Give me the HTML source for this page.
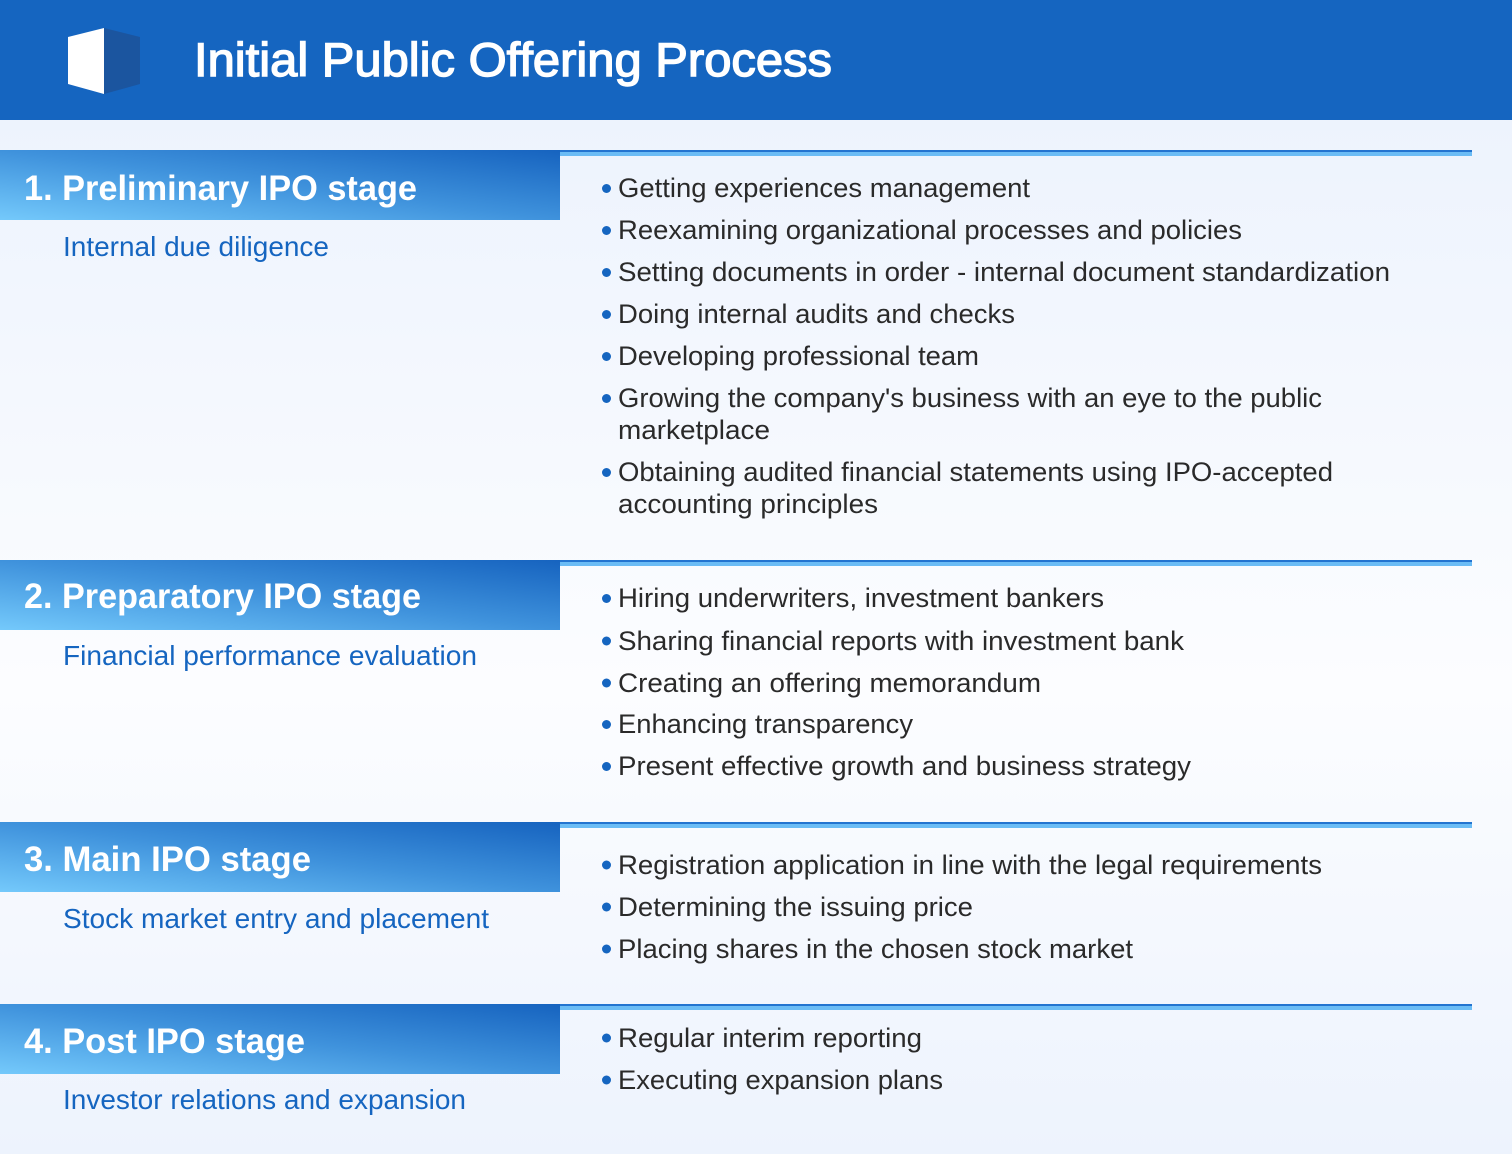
<!DOCTYPE html>
<html>
<head>
<meta charset="utf-8">
<style>
html,body{margin:0;padding:0;width:1512px;height:1154px;overflow:hidden;background:#eef4fd;}
svg{display:block;}
text{font-family:"Liberation Sans",Arial,sans-serif;}
.t{font-size:35.5px;font-weight:bold;fill:#ffffff;}
.s{font-size:27.5px;fill:#1565c0;}
.b{font-size:27px;fill:#2a2a2a;}
</style>
</head>
<body>
<svg width="1512" height="1154" viewBox="0 0 1512 1154" xmlns="http://www.w3.org/2000/svg">
<defs>
  <linearGradient id="bg" x1="0" y1="120" x2="0" y2="1154" gradientUnits="userSpaceOnUse">
    <stop offset="0" stop-color="#edf3fd"/>
    <stop offset="0.55" stop-color="#fcfdff"/>
    <stop offset="1" stop-color="#edf3fd"/>
  </linearGradient>
  <linearGradient id="bar" x1="0" y1="1" x2="1" y2="0">
    <stop offset="0" stop-color="#74c9fb"/>
    <stop offset="0.5" stop-color="#3f92dc"/>
    <stop offset="1" stop-color="#1663bf"/>
  </linearGradient>
</defs>

<rect x="0" y="0" width="1512" height="1154" fill="url(#bg)"/>

<!-- Header -->
<rect x="0" y="0" width="1512" height="120" fill="#1565c0"/>
<polygon points="68,37 104,28 104,94 68,84" fill="#ffffff"/>
<polygon points="104,28 140,37 140,84 104,94" fill="#1b559f"/>
<text x="194" y="76" font-size="47" fill="#ffffff" stroke="#ffffff" stroke-width="1.4" textLength="638" lengthAdjust="spacingAndGlyphs">Initial Public Offering Process</text>

<!-- Section 1 -->
<rect x="0" y="150" width="560" height="70" fill="url(#bar)"/>
<rect x="560" y="150" width="912" height="2" fill="#2374d0"/>
<rect x="560" y="152" width="912" height="4" fill="#6bbcf5"/>
<text class="t" x="24" y="200" textLength="393" lengthAdjust="spacingAndGlyphs">1. Preliminary IPO stage</text>
<text class="s" x="63" y="256" textLength="266" lengthAdjust="spacingAndGlyphs">Internal due diligence</text>

<g fill="#1565c0">
  <circle cx="606.5" cy="188.5" r="4.5"/>
  <circle cx="606.5" cy="230.5" r="4.5"/>
  <circle cx="606.5" cy="272.5" r="4.5"/>
  <circle cx="606.5" cy="314.5" r="4.5"/>
  <circle cx="606.5" cy="356.5" r="4.5"/>
  <circle cx="606.5" cy="398.5" r="4.5"/>
  <circle cx="606.5" cy="472.5" r="4.5"/>
</g>
<text class="b" x="618" y="197" textLength="412" lengthAdjust="spacingAndGlyphs">Getting experiences management</text>
<text class="b" x="618" y="239" textLength="624" lengthAdjust="spacingAndGlyphs">Reexamining organizational processes and policies</text>
<text class="b" x="618" y="281" textLength="772" lengthAdjust="spacingAndGlyphs">Setting documents in order - internal document standardization</text>
<text class="b" x="618" y="323" textLength="397" lengthAdjust="spacingAndGlyphs">Doing internal audits and checks</text>
<text class="b" x="618" y="365" textLength="361" lengthAdjust="spacingAndGlyphs">Developing professional team</text>
<text class="b" x="618" y="407" textLength="704" lengthAdjust="spacingAndGlyphs">Growing the company's business with an eye to the public</text>
<text class="b" x="618" y="439" textLength="152" lengthAdjust="spacingAndGlyphs">marketplace</text>
<text class="b" x="618" y="481" textLength="715" lengthAdjust="spacingAndGlyphs">Obtaining audited financial statements using IPO-accepted</text>
<text class="b" x="618" y="513" textLength="260" lengthAdjust="spacingAndGlyphs">accounting principles</text>

<!-- Section 2 -->
<rect x="0" y="560" width="560" height="70" fill="url(#bar)"/>
<rect x="560" y="560" width="912" height="2" fill="#2374d0"/>
<rect x="560" y="562" width="912" height="4" fill="#6bbcf5"/>
<text class="t" x="24" y="608" textLength="397" lengthAdjust="spacingAndGlyphs">2. Preparatory IPO stage</text>
<text class="s" x="63" y="665" textLength="414" lengthAdjust="spacingAndGlyphs">Financial performance evaluation</text>

<g fill="#1565c0">
  <circle cx="606.5" cy="598.5" r="4.5"/>
  <circle cx="606.5" cy="641" r="4.5"/>
  <circle cx="606.5" cy="683" r="4.5"/>
  <circle cx="606.5" cy="724.5" r="4.5"/>
  <circle cx="606.5" cy="766.5" r="4.5"/>
</g>
<text class="b" x="618" y="607" textLength="486" lengthAdjust="spacingAndGlyphs">Hiring underwriters, investment bankers</text>
<text class="b" x="618" y="650" textLength="566" lengthAdjust="spacingAndGlyphs">Sharing financial reports with investment bank</text>
<text class="b" x="618" y="692" textLength="423" lengthAdjust="spacingAndGlyphs">Creating an offering memorandum</text>
<text class="b" x="618" y="733" textLength="295" lengthAdjust="spacingAndGlyphs">Enhancing transparency</text>
<text class="b" x="618" y="775" textLength="573" lengthAdjust="spacingAndGlyphs">Present effective growth and business strategy</text>

<!-- Section 3 -->
<rect x="0" y="822" width="560" height="70" fill="url(#bar)"/>
<rect x="560" y="822" width="912" height="2" fill="#2374d0"/>
<rect x="560" y="824" width="912" height="4" fill="#6bbcf5"/>
<text class="t" x="24" y="871" textLength="287" lengthAdjust="spacingAndGlyphs">3. Main IPO stage</text>
<text class="s" x="63" y="928" textLength="426" lengthAdjust="spacingAndGlyphs">Stock market entry and placement</text>

<g fill="#1565c0">
  <circle cx="606.5" cy="865" r="4.5"/>
  <circle cx="606.5" cy="907" r="4.5"/>
  <circle cx="606.5" cy="949" r="4.5"/>
</g>
<text class="b" x="618" y="874" textLength="704" lengthAdjust="spacingAndGlyphs">Registration application in line with the legal requirements</text>
<text class="b" x="618" y="916" textLength="355" lengthAdjust="spacingAndGlyphs">Determining the issuing price</text>
<text class="b" x="618" y="958" textLength="515" lengthAdjust="spacingAndGlyphs">Placing shares in the chosen stock market</text>

<!-- Section 4 -->
<rect x="0" y="1004" width="560" height="70" fill="url(#bar)"/>
<rect x="560" y="1004" width="912" height="2" fill="#2374d0"/>
<rect x="560" y="1006" width="912" height="4" fill="#6bbcf5"/>
<text class="t" x="24" y="1053" textLength="281" lengthAdjust="spacingAndGlyphs">4. Post IPO stage</text>
<text class="s" x="63" y="1109" textLength="403" lengthAdjust="spacingAndGlyphs">Investor relations and expansion</text>

<g fill="#1565c0">
  <circle cx="606.5" cy="1038" r="4.5"/>
  <circle cx="606.5" cy="1080" r="4.5"/>
</g>
<text class="b" x="618" y="1047" textLength="304" lengthAdjust="spacingAndGlyphs">Regular interim reporting</text>
<text class="b" x="618" y="1089" textLength="325" lengthAdjust="spacingAndGlyphs">Executing expansion plans</text>
</svg>
</body>
</html>
